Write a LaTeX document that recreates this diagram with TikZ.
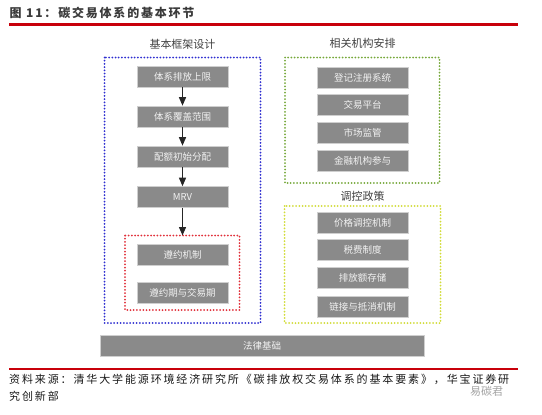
\documentclass[tikz,border=0pt]{standalone}
\usepackage{fontspec}
\setmainfont{Noto Sans CJK SC}
\newfontfamily\titlefont[LetterSpace=15]{Noto Sans CJK SC}
\newfontfamily\footfont[LetterSpace=17]{Noto Sans CJK SC}
\usetikzlibrary{arrows.meta}
\definecolor{boxgray}{HTML}{8A8A8A}
\definecolor{boxline}{HTML}{CFCFCF}
\definecolor{boxtext}{HTML}{F2F2F2}
\definecolor{headgray}{HTML}{404040}
\definecolor{titlegray}{HTML}{3A3A3A}
\definecolor{barred}{HTML}{C8000A}
\definecolor{dotblue}{HTML}{2F2FD0}
\definecolor{dotred}{HTML}{E0303A}
\definecolor{dotgreen}{HTML}{76A83A}
\definecolor{dotyellow}{HTML}{D2DC3A}
\tikzset{
  graybox/.style={fill=boxgray, draw=boxline, line width=0.6pt, minimum width=91, minimum height=21,
    inner sep=0pt, text=boxtext, font=\fontsize{9.5}{10}\selectfont},
  grouphead/.style={text=headgray, font=\fontsize{11}{12}\selectfont, inner sep=0pt},
  dotframe/.style={line width=2pt, line cap=round, dash pattern=on 0pt off 3.2pt},
  flowarrow/.style={draw=black!85, line width=1.4pt, -{Triangle[width=7pt,length=8.5pt]}},
  redrule/.style={draw=barred, line width=2.6pt}
}
\begin{document}
\begin{tikzpicture}[x=1pt,y=-1pt]
\useasboundingbox (0,0) rectangle (542,415);
% title
\node[anchor=west, inner sep=0pt, text=titlegray, font=\fontsize{12}{13}\selectfont\titlefont\bfseries] (title) at (9.5,12.5) {图 11：碳交易体系的基本环节};
\coordinate (rt1) at (9,24.5);
\coordinate (rt2) at (518,24.5);
\draw[redrule] (rt1) -- (rt2);

% group heads
\node[grouphead] (h1) at (182.5,44) {基本框架设计};
\node[grouphead] (h2) at (362.5,43.5) {相关机构安排};
\node[grouphead] (h3) at (362.5,196) {调控政策};

% frames
\draw[dotframe, draw=dotblue] (104.5,57.5) rectangle (260.5,323);
\draw[dotframe, draw=dotred] (125,235.5) rectangle (239.5,310);
\draw[dotframe, draw=dotgreen] (285,57.5) rectangle (439.5,183);
\draw[dotframe, draw=dotyellow] (284.5,206) rectangle (440.5,323);

% left column
\node[graybox] (a1) at (182.5,76.5) {体系排放上限};
\node[graybox] (a2) at (182.5,116.5) {体系覆盖范围};
\node[graybox] (a3) at (182.5,156.5) {配额初始分配};
\node[graybox] (a4) at (182.5,197) {MRV};
\node[graybox] (a5) at (182.5,254.5) {遵约机制};
\node[graybox] (a6) at (182.5,292.5) {遵约期与交易期};
\coordinate (redtop) at (182.5,235.5);
\draw[flowarrow] (a1) -- (a2);
\draw[flowarrow] (a2) -- (a3);
\draw[flowarrow] (a3) -- (a4);
\draw[flowarrow] (a4) -- (redtop);

% right top column
\node[graybox] (b1) at (362.5,77.5) {登记注册系统};
\node[graybox] (b2) at (362.5,105) {交易平台};
\node[graybox] (b3) at (362.5,133) {市场监管};
\node[graybox] (b4) at (362.5,161) {金融机构参与};

% right bottom column
\node[graybox] (c1) at (362.5,222.5) {价格调控机制};
\node[graybox] (c2) at (362.5,250) {税费制度};
\node[graybox] (c3) at (362.5,278) {排放额存储};
\node[graybox] (c4) at (362.5,306.5) {链接与抵消机制};

% base bar
\node[graybox, minimum width=324] (law) at (262,345.5) {法律基础};

% footer
\coordinate (rb1) at (9,369);
\coordinate (rb2) at (518,369);
\draw[redrule] (rb1) -- (rb2);
\node[anchor=west, inner sep=0pt, text=black!90, font=\fontsize{11}{12}\selectfont\footfont] (src1) at (9,379) {资料来源：清华大学能源环境经济研究所《碳排放权交易体系的基本要素》，华宝证券研};
\node[anchor=west, inner sep=0pt, text=black!90, font=\fontsize{11}{12}\selectfont\footfont] (src2) at (9,396) {究创新部};
\node[anchor=west, inner sep=0pt, text=black!45, opacity=0.8, font=\fontsize{11}{12}\selectfont] (wm) at (470,391) {易碳君};
\end{tikzpicture}
\end{document}
